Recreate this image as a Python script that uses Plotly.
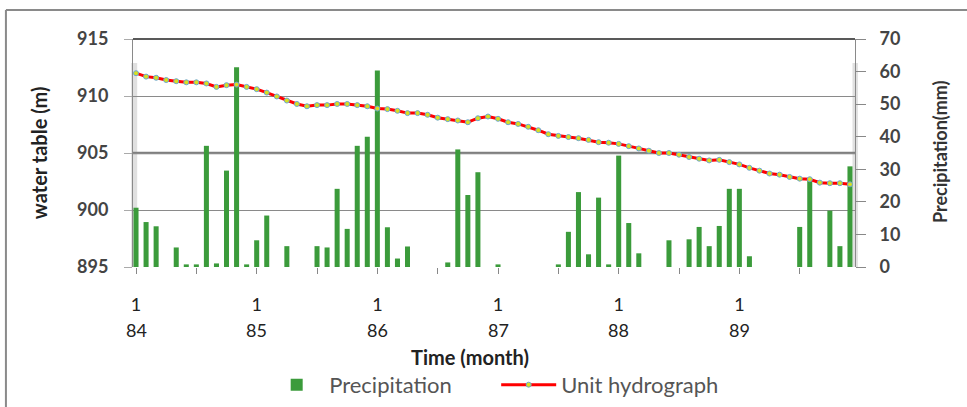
import plotly.graph_objects as go

# month index 0..71 = Jan 84 .. Dec 89
months = list(range(72))

precip = [18.2, 13.8, 12.5, 0, 6.0, 0.8, 0.8, 37.2, 1.1, 29.6, 61.3, 0.8,
          8.2, 15.8, 0, 6.4, 0, 0, 6.4, 6.0, 24.0, 11.7, 37.2, 40.0,
          60.3, 12.2, 2.6, 6.3, 0, 0, 0, 1.4, 36.1, 22.1, 29.1, 0,
          0.8, 0, 0, 0, 0, 0, 0.8, 10.8, 23.0, 3.9, 21.3, 0.8,
          34.2, 13.5, 4.2, 0, 0, 8.2, 0, 8.5, 12.3, 6.4, 12.6, 24.0,
          24.0, 3.3, 0, 0, 0, 0, 12.3, 26.5, 0, 17.3, 6.4, 30.9]

water_table = [912.0, 911.7, 911.6, 911.4, 911.3, 911.2, 911.2, 911.1, 910.8, 910.95, 911.0, 910.8,
               910.6, 910.3, 909.96, 909.6, 909.3, 909.1, 909.2, 909.2, 909.3, 909.3, 909.2, 909.1,
               908.9, 908.85, 908.7, 908.5, 908.5, 908.35, 908.1, 907.97, 907.85, 907.7, 908.05, 908.2,
               908.0, 907.7, 907.55, 907.3, 907.0, 906.65, 906.5, 906.4, 906.3, 906.15, 905.95, 905.9,
               905.8, 905.6, 905.4, 905.2, 905.0, 905.0, 904.85, 904.65, 904.5, 904.35, 904.4, 904.2,
               904.0, 903.7, 903.45, 903.2, 903.1, 902.9, 902.75, 902.7, 902.4, 902.35, 902.35, 902.25]

tick_months = [0, 6, 12, 18, 24, 30, 36, 42, 48, 54, 60, 66]
tick_text = ["1" if m % 12 == 0 else "" for m in tick_months]
year_months = [0, 12, 24, 36, 48, 60]
year_labels = ["84", "85", "86", "87", "88", "89"]

FONT = "Lato"

fig = go.Figure()
fig.add_trace(go.Bar(
    x=months, y=precip, name="Precipitation", yaxis="y", width=0.5,
    marker=dict(color="#3b9b3b", line=dict(width=0)),
))
fig.add_trace(go.Scatter(
    x=months, y=water_table, name="Unit hydrograph", yaxis="y2",
    mode="lines+markers",
    line=dict(color="#ff0000", width=3),
    marker=dict(size=5, color="#d8e020", line=dict(color="#6aa6d6", width=1)),
))

shapes = [
    # light grey bands beside the axis lines
    dict(type="rect", xref="paper", yref="paper", x0=-0.0025, x1=0.0058, y0=0, y1=0.895,
         fillcolor="#e0e0e0", line_width=0, layer="below"),
    dict(type="rect", xref="paper", yref="paper", x0=0.9965, x1=1.004, y0=0, y1=0.895,
         fillcolor="#e0e0e0", line_width=0, layer="below"),
    # thicker 905 gridline
    dict(type="line", xref="paper", yref="y2", x0=0, x1=1, y0=905, y1=905,
         line=dict(color="#7f7f7f", width=2.5), layer="below"),
    # top plot border
    dict(type="line", xref="paper", yref="paper", x0=0, x1=1, y0=1, y1=1,
         line=dict(color="#222222", width=1.5)),
    # outer chart frame (top and left)
    dict(type="line", xref="paper", yref="paper", x0=-0.176, x1=1.3, y0=1.127, y1=1.127,
         line=dict(color="#8a8a8a", width=2)),
    dict(type="line", xref="paper", yref="paper", x0=-0.176, x1=-0.176, y0=1.127, y1=-0.8,
         line=dict(color="#8a8a8a", width=2)),
]

annotations = [
    dict(x=m, y=-0.276, xref="x", yref="paper", text=t, showarrow=False,
         font=dict(family=FONT, size=18, color="#222"), yanchor="middle")
    for m, t in zip(year_months, year_labels)
]
annotations += [
    dict(x=0.467, y=-0.395, xref="paper", yref="paper", text="Time (month)", showarrow=False,
         font=dict(family=FONT, size=20, color="#222", weight="bold"), yanchor="middle"),
    dict(x=-0.13, y=0.5, xref="paper", yref="paper", text="water table (m)", showarrow=False,
         textangle=-90, font=dict(family=FONT, size=20, color="#222", weight="bold"),
         xanchor="center", yanchor="middle"),
    dict(x=1.118, y=0.505, xref="paper", yref="paper", text="Precipitation(mm)", showarrow=False,
         textangle=-90, font=dict(family=FONT, size=18, color="#333", weight="bold"),
         xanchor="center", yanchor="middle"),
]

fig.update_layout(
    width=967, height=407,
    margin=dict(l=133, r=112, t=39, b=140, autoexpand=False),
    paper_bgcolor="white", plot_bgcolor="white",
    font=dict(family=FONT, color="#333"),
    bargap=0.5,
    showlegend=True,
    legend=dict(orientation="h", x=0.1817, xanchor="left", y=-0.517, yanchor="middle",
                font=dict(family=FONT, size=22, color="#555"), itemwidth=55,
                entrywidth=162, traceorder="normal"),
    xaxis=dict(range=[-0.3, 71.5], tickmode="array", tickvals=tick_months, ticktext=tick_text,
               ticks="outside", ticklen=6, tickcolor="#888", showgrid=False, zeroline=False,
               showline=False, tickfont=dict(family=FONT, size=18, color="#222"),
               ticklabelstandoff=15, automargin=False),
    yaxis=dict(side="right", range=[0, 70], dtick=10, ticks="outside", ticklen=10,
               tickcolor="#888", showline=True, linecolor="#8a8a8a", linewidth=1,
               showgrid=False, zeroline=False, automargin=False,
               tickfont=dict(family=FONT, size=18, color="#444", weight="bold"),
               ticklabelstandoff=10),
    yaxis2=dict(side="left", overlaying="y", range=[895, 915], dtick=5, ticks="outside",
                ticklen=8, tickcolor="#aaa", showline=True, linecolor="#8a8a8a", linewidth=1,
                showgrid=True, gridcolor="#8a8a8a", gridwidth=1, zeroline=False, automargin=False,
                tickfont=dict(family=FONT, size=18, color="#444", weight="bold"),
                ticklabelstandoff=12),
    shapes=shapes,
    annotations=annotations,
)

fig.write_html("out.html", config={"displayModeBar": False},
               post_script="document.body.style.margin='0';")
